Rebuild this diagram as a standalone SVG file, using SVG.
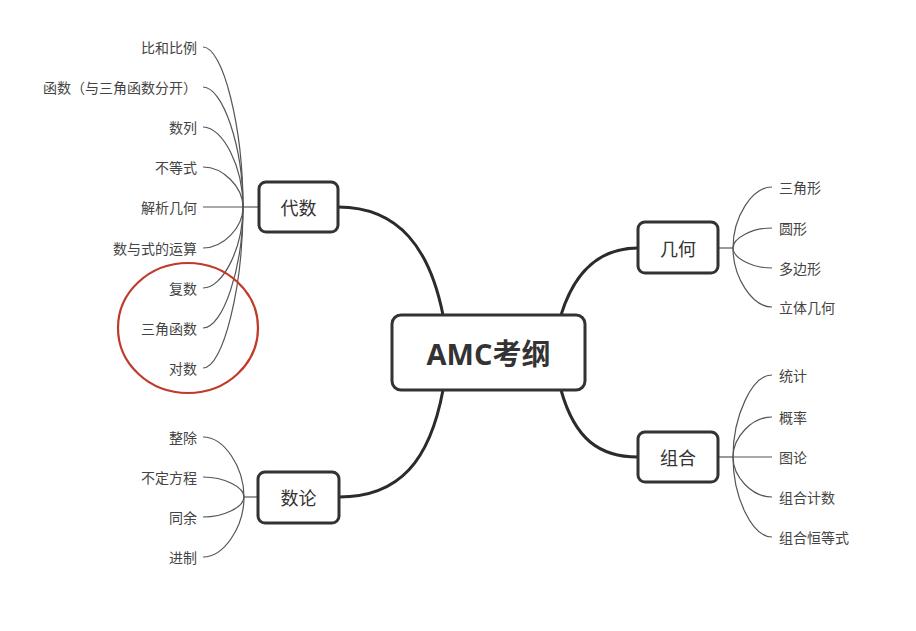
<svg xmlns="http://www.w3.org/2000/svg" width="916" height="631" viewBox="0 0 916 631">
<style>
.bg{fill:#fff}
.node rect{fill:#fff;stroke:#333;stroke-width:3}
.node text{font-family:"Noto Sans CJK SC","Noto Sans",sans-serif;font-size:18px;fill:#333;text-anchor:middle;dominant-baseline:central}
#root text{font-family:"Open Sans","Noto Sans CJK SC",sans-serif;font-weight:bold;font-size:29px;fill:#333}
.main{fill:none;stroke:#2b2b2b;stroke-width:3}
.br{fill:none;stroke:#555;stroke-width:1.2}
.leaf{font-family:"Noto Sans CJK SC","Noto Sans",sans-serif;font-size:14px;fill:#444;dominant-baseline:central}
.l{text-anchor:end}
.r{text-anchor:start}
</style>
<rect class="bg" width="916" height="631"/>
<g id="connectors">
<path class="main" d="M443 315 C430 250 400 207 338 207"/>
<path class="main" d="M443 390 C430 460 400 497 339 497"/>
<path class="main" d="M561 315 C575 270 600 248 638 248"/>
<path class="main" d="M561 390 C575 440 600 457 638 457"/>
<g id="br-daishu">
<path class="br" d="M259 207 H243"/>
<path class="br" d="M243 207 C243 127 223 47 203 47"/>
<path class="br" d="M243 207 C243 147 223 87 203 87"/>
<path class="br" d="M243 207 C243 167 223 127 203 127"/>
<path class="br" d="M243 207 C243 187 223 167 203 167"/>
<path class="br" d="M243 207 H203"/>
<path class="br" d="M243 207 C243 228 223 248 203 248"/>
<path class="br" d="M243 207 C243 248 223 288 203 288"/>
<path class="br" d="M243 207 C243 268 223 328 203 328"/>
<path class="br" d="M243 207 C243 288 223 368 203 368"/>
</g>
<g id="br-shulun">
<path class="br" d="M258 497 H244"/>
<path class="br" d="M244 497 C244 467 224 437 203 437"/>
<path class="br" d="M244 497 C244 487 224 477 203 477"/>
<path class="br" d="M244 497 C244 507 224 517 203 517"/>
<path class="br" d="M244 497 C244 527 224 557 203 557"/>
</g>
<g id="br-jihe">
<path class="br" d="M718 248 H733"/>
<path class="br" d="M733 248 C733 217 752 187 772 187"/>
<path class="br" d="M733 248 C733 238 752 228 772 228"/>
<path class="br" d="M733 248 C733 258 752 268 772 268"/>
<path class="br" d="M733 248 C733 277 752 307 772 307"/>
</g>
<g id="br-zuhe">
<path class="br" d="M718 457 H733"/>
<path class="br" d="M733 457 C733 416 752 375 772 375"/>
<path class="br" d="M733 457 C733 437 752 417 772 417"/>
<path class="br" d="M733 457 H772"/>
<path class="br" d="M733 457 C733 477 752 497 772 497"/>
<path class="br" d="M733 457 C733 497 752 537 772 537"/>
</g>
</g>
<g id="root" class="node">
<rect x="392" y="315" width="193" height="75" rx="9"/>
<text x="488.5" y="353">AMC考纲</text>
</g>
<g id="daishu" class="node">
<rect x="259" y="182" width="79" height="50" rx="7"/>
<text x="298.5" y="207">代数</text>
</g>
<g id="shulun" class="node">
<rect x="258" y="472" width="81" height="51" rx="7"/>
<text x="298.5" y="497">数论</text>
</g>
<g id="jihe" class="node">
<rect x="638" y="222" width="80" height="51" rx="7"/>
<text x="678" y="248">几何</text>
</g>
<g id="zuhe" class="node">
<rect x="638" y="432" width="80" height="50" rx="7"/>
<text x="678" y="457">组合</text>
</g>
<g id="leaves-daishu">
<text class="leaf l" x="197" y="47">比和比例</text>
<text class="leaf l" x="197" y="87">函数（与三角函数分开）</text>
<text class="leaf l" x="197" y="127">数列</text>
<text class="leaf l" x="197" y="167">不等式</text>
<text class="leaf l" x="197" y="207">解析几何</text>
<text class="leaf l" x="197" y="248">数与式的运算</text>
<text class="leaf l" x="197" y="288">复数</text>
<text class="leaf l" x="197" y="328">三角函数</text>
<text class="leaf l" x="197" y="368">对数</text>
</g>
<g id="leaves-shulun">
<text class="leaf l" x="197" y="437">整除</text>
<text class="leaf l" x="197" y="477">不定方程</text>
<text class="leaf l" x="197" y="517">同余</text>
<text class="leaf l" x="197" y="557">进制</text>
</g>
<g id="leaves-jihe">
<text class="leaf r" x="779" y="187">三角形</text>
<text class="leaf r" x="779" y="228">圆形</text>
<text class="leaf r" x="779" y="268">多边形</text>
<text class="leaf r" x="779" y="307">立体几何</text>
</g>
<g id="leaves-zuhe">
<text class="leaf r" x="779" y="375">统计</text>
<text class="leaf r" x="779" y="417">概率</text>
<text class="leaf r" x="779" y="457">图论</text>
<text class="leaf r" x="779" y="497">组合计数</text>
<text class="leaf r" x="779" y="537">组合恒等式</text>
</g>
<ellipse id="highlight" cx="188" cy="328" rx="70" ry="65" fill="none" stroke="#c0392b" stroke-width="2.2"/>
</svg>
